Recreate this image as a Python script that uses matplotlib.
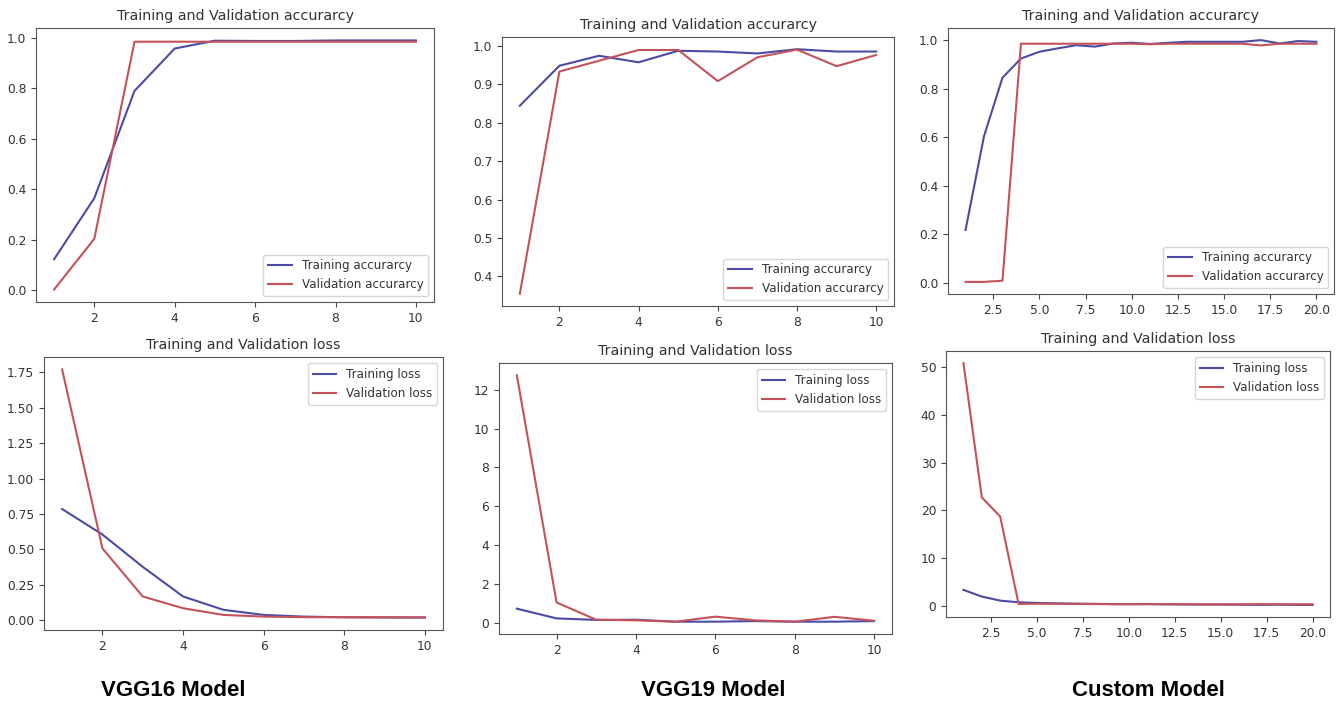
import numpy as np
import matplotlib
matplotlib.use("Agg")
import matplotlib.pyplot as plt

# epochs
epochs10 = list(range(1, 11))
epochs20 = list(range(1, 21))

# VGG16
vgg16_train_acc = [0.123, 0.365, 0.79, 0.958, 0.989, 0.988, 0.988, 0.99, 0.99, 0.99]
vgg16_val_acc = [0.003, 0.204, 0.985, 0.985, 0.985, 0.985, 0.985, 0.985, 0.985, 0.985]
vgg16_train_loss = [0.785, 0.605, 0.377, 0.168, 0.074, 0.038, 0.026, 0.021, 0.02, 0.019]
vgg16_val_loss = [1.77, 0.507, 0.168, 0.085, 0.038, 0.026, 0.022, 0.022, 0.021, 0.021]

# VGG19
vgg19_train_acc = [0.844, 0.948, 0.974, 0.957, 0.987, 0.985, 0.98, 0.991, 0.985, 0.985]
vgg19_val_acc = [0.355, 0.933, 0.961, 0.989, 0.989, 0.908, 0.970, 0.99, 0.947, 0.976]
vgg19_train_loss = [0.72, 0.22, 0.14, 0.15, 0.05, 0.05, 0.08, 0.05, 0.05, 0.08]
vgg19_val_loss = [12.75, 1.04, 0.15, 0.12, 0.05, 0.31, 0.12, 0.05, 0.30, 0.10]

# Custom model
custom_train_acc = [0.217, 0.604, 0.845, 0.924, 0.952, 0.966, 0.979, 0.973, 0.986, 0.989,
                    0.984, 0.989, 0.993, 0.993, 0.993, 0.993, 1.0, 0.986, 0.996, 0.993]
custom_val_acc = [0.003, 0.003, 0.008, 0.985, 0.985, 0.985, 0.985, 0.985, 0.985, 0.985,
                  0.983, 0.985, 0.985, 0.985, 0.985, 0.985, 0.978, 0.985, 0.985, 0.985]
custom_train_loss = [3.3, 1.9, 1.05, 0.7, 0.56, 0.48, 0.42, 0.38, 0.33, 0.3,
                     0.32, 0.27, 0.24, 0.22, 0.22, 0.2, 0.17, 0.2, 0.16, 0.15]
custom_val_loss = [50.9, 22.7, 18.7, 0.35, 0.4, 0.38, 0.35, 0.33, 0.3, 0.3,
                   0.32, 0.3, 0.3, 0.28, 0.28, 0.28, 0.3, 0.3, 0.28, 0.28]

model_names = ["VGG16 Model", "VGG19 Model", "Custom Model"]

TRAIN_C = '#4b4ba3'
VAL_C = '#c4525a'

W, H = 1341, 702
fig = plt.figure(figsize=(W / 100, H / 100), dpi=100)


def add_ax(x0, y0, x1, y1):
    return fig.add_axes([x0 / W, 1 - y1 / H, (x1 - x0) / W, (y1 - y0) / H])


# pixel boxes (left, top, right, bottom)
boxes = [
    (36, 28, 434, 302), (502, 37, 894, 306), (948, 28, 1334, 294),
    (44, 357, 443, 630), (499, 363, 892, 634), (946, 351, 1330, 617),
]

panels = [
    (epochs10, vgg16_train_acc, vgg16_val_acc, 'acc'),
    (epochs10, vgg19_train_acc, vgg19_val_acc, 'acc'),
    (epochs20, custom_train_acc, custom_val_acc, 'acc'),
    (epochs10, vgg16_train_loss, vgg16_val_loss, 'loss'),
    (epochs10, vgg19_train_loss, vgg19_val_loss, 'loss'),
    (epochs20, custom_train_loss, custom_val_loss, 'loss'),
]

for box, (ep, tr, va, kind) in zip(boxes, panels):
    ax = add_ax(*box)
    if kind == 'acc':
        ax.plot(ep, tr, color=TRAIN_C, lw=1.5, label='Training accurarcy')
        ax.plot(ep, va, color=VAL_C, lw=1.5, label='Validation accurarcy')
        ax.set_title('Training and Validation accurarcy', fontsize=10.3, color='#333333')
        loc = 'lower right'
    else:
        ax.plot(ep, tr, color=TRAIN_C, lw=1.5, label='Training loss')
        ax.plot(ep, va, color=VAL_C, lw=1.5, label='Validation loss')
        ax.set_title('Training and Validation loss', fontsize=10.3, color='#333333')
        loc = 'upper right'
    ax.legend(loc=loc, fontsize=8.6, labelcolor='#333333')
    ax.tick_params(labelsize=8.8, colors='#444444', labelcolor='#333333')
    for s in ax.spines.values():
        s.set_color('#555555')

# model labels under each column
label_x = [173, 713, 1148]
for name, x in zip(model_names, label_x):
    fig.text(x / W, 1 - 690 / H, name, ha='center', va='center',
             fontsize=16, fontweight='bold', family='Liberation Sans')

fig.savefig('out.png', dpi=100)
